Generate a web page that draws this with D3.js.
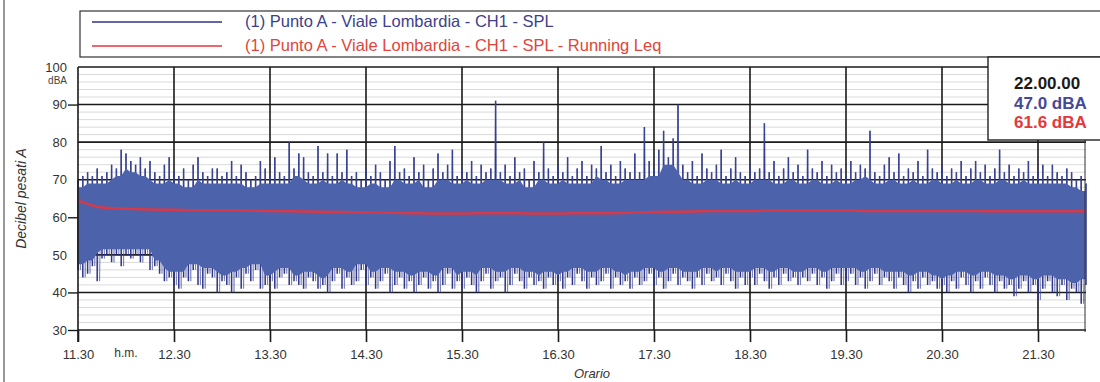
<!DOCTYPE html>
<html><head><meta charset="utf-8">
<script src="https://cdn.jsdelivr.net/npm/d3@7"></script>
<style>
html,body{margin:0;padding:0;background:#fff;}
svg{display:block;font-family:"Liberation Sans",Arial,sans-serif;}
</style></head><body>
<svg id="c" width="1100" height="382"></svg>
<script>
// ---- data ----
const xTickLabels = ["11.30","12.30","13.30","14.30","15.30","16.30","17.30","18.30","19.30","20.30","21.30"];
const xTickMinutes = [690,750,810,870,930,990,1050,1110,1170,1230,1290];
const yTicks = [30,40,50,60,70,80,90,100];
const yTicksMarked = [90,60,40,30];
const startMinute = 690;   // 11.30
const endMinute = 1320;    // 22.00
const splStep = 3;         // minutes between SPL samples
const splMax = [
70,71,72,71,73,71,72,74,73,78,77,75,74,76,73,75,72,71,74,76,
72,71,73,70,74,76,72,71,73,73,71,72,75,71,74,72,70,71,75,73,
71,76,72,71,80,73,77,76,72,71,79,72,77,71,77,72,78,71,72,70,
73,71,74,72,70,75,79,72,73,71,76,72,74,70,73,77,72,74,78,71,
73,72,75,71,74,72,73,91,72,74,71,76,72,73,70,75,72,80,73,71,
74,72,76,71,73,75,71,74,73,79,72,74,71,75,73,72,77,72,84,75,
73,78,83,76,81,90,74,72,75,71,77,73,72,74,78,71,73,76,72,71,
74,72,73,85,72,75,71,73,76,72,74,71,78,73,72,75,71,74,72,73,
71,75,72,74,73,83,72,71,74,76,72,77,71,73,72,75,71,78,73,72,
74,71,73,72,75,71,73,75,72,74,71,73,78,72,74,71,73,72,75,71,
72,74,71,74,72,71,73,72,70,71,69];
const splMin = [
46,44,45,47,43,49,50,48,50,47,50,49,50,48,50,46,47,45,43,44,
42,41,44,43,46,42,41,45,44,40,43,42,40,44,41,45,43,46,41,42,
43,41,44,45,42,43,42,41,44,43,41,42,40,43,45,41,44,42,43,46,
42,44,41,43,45,40,42,44,41,43,40,42,44,41,43,40,42,45,41,43,
41,44,42,40,43,45,41,43,44,40,42,45,43,41,44,42,43,41,44,42,
43,41,44,42,45,43,41,44,42,43,45,41,44,42,43,41,44,42,43,45,
42,44,41,43,45,42,44,43,41,44,42,45,43,44,42,45,43,41,44,42,
44,42,45,43,41,44,42,45,43,44,42,44,43,45,42,44,41,43,45,42,
43,45,42,44,41,43,45,42,44,43,41,44,42,40,43,41,44,42,43,41,
42,40,43,41,44,42,40,43,41,44,42,40,43,41,42,39,41,43,40,42,
38,41,43,40,39,42,38,41,40,37,42];
const leqStep = 15;        // minutes between Running Leq samples
const leq = [64.5,62.6,62.3,62.1,62.0,61.9,61.9,61.8,61.7,61.6,61.5,61.4,61.3,61.2,61.1,61.0,61.0,61.1,61.1,61.0,
61.0,61.1,61.1,61.2,61.4,61.5,61.6,61.7,61.7,61.8,61.8,61.8,61.8,61.7,61.7,61.7,61.7,61.7,61.6,61.6,61.6,61.6,61.6];
const legendLabels = ["(1) Punto A - Viale Lombardia - CH1 - SPL","(1) Punto A - Viale Lombardia - CH1 - SPL - Running Leq"];
const infoLines = ["22.00.00","47.0 dBA","61.6 dBA"];
const yTitle = "Decibel pesati A";
const xTitle = "Orario";
const yUnit = "dBA";
const xUnit = "h.m.";

// ---- drawing ----
const svg = d3.select("#c");
const BLUE = "#2f3486", BLUEFILL = "#4c63ac", RED = "#e5343c";
const x = d3.scaleLinear().domain([startMinute,endMinute]).range([78,1086]);
const y = d3.scaleLinear().domain([30,100]).range([330,67]);

// page border
svg.append("line").attr("x1",4).attr("x2",4).attr("y1",0).attr("y2",382).attr("stroke","#777").attr("stroke-width",1.5);

// minor horizontal grid
const minor = d3.range(32,100,2).filter(v=>v%10!==0);
svg.append("g").selectAll("line").data(minor).join("line")
  .attr("x1",x(startMinute)).attr("x2",x(endMinute)).attr("y1",d=>y(d)).attr("y2",d=>y(d))
  .attr("stroke","#dadada").attr("stroke-width",1);

// major horizontal grid
svg.append("g").selectAll("line").data(yTicks).join("line")
  .attr("x1",x(startMinute)).attr("x2",x(endMinute)).attr("y1",d=>y(d)).attr("y2",d=>y(d))
  .attr("stroke","#1a1a1a").attr("stroke-width",1.6);

// vertical grid
svg.append("g").selectAll("line").data(xTickMinutes.slice(1)).join("line")
  .attr("x1",d=>x(d)).attr("x2",d=>x(d)).attr("y1",y(100)).attr("y2",y(30))
  .attr("stroke","#1a1a1a").attr("stroke-width",1.6);

const n = splMax.length;
// SPL: min-max strokes per sample
const segs = [];
splMax.forEach((v,i)=>{
  const t = startMinute+i*splStep;
  segs.push([t,splMin[i]]); segs.push([t,v]); segs.push(null);
});
svg.append("path").datum(segs)
  .attr("d",d3.line().defined(d=>d!==null).x(d=>x(d[0])).y(d=>y(d[1])))
  .attr("fill","none").attr("stroke",BLUE).attr("stroke-width",1.5);
// SPL: secondary zigzag between samples (lighter)
const zz = [];
splMax.forEach((v,i)=>{
  const t = startMinute+i*splStep;
  zz.push([t,v]);
  if (i<n-1) zz.push([t+splStep/2, splMin[i]]);
});
svg.append("path").datum(zz)
  .attr("d",d3.line().x(d=>x(d[0])).y(d=>y(d[1])))
  .attr("fill","none").attr("stroke","#3e4b9c").attr("stroke-width",0.8).attr("opacity",0.6);

// SPL core band (derived from envelope neighbours)
const core = d3.range(n).map(i=>{
  const lo = Math.max(0,i-1), hi = Math.min(n-1,i+1);
  return {t:startMinute+i*splStep,
    top:d3.min(splMax.slice(lo,hi+1)),
    bot:d3.max(splMin.slice(lo,hi+1))};
});
svg.append("path").datum(core)
  .attr("d",d3.area().x(d=>x(d.t)).y0(d=>y(d.bot+1.5)).y1(d=>y(d.top-2)))
  .attr("fill",BLUEFILL);

// Running Leq
svg.append("path").datum(leq.map((v,i)=>[startMinute+i*leqStep,v]))
  .attr("d",d3.line().x(d=>x(d[0])).y(d=>y(d[1])).curve(d3.curveMonotoneX))
  .attr("fill","none").attr("stroke",RED).attr("stroke-width",2.5).attr("opacity",0.9);

// frame: left axis, right
svg.append("line").attr("x1",x(startMinute)).attr("x2",x(startMinute)).attr("y1",y(100)).attr("y2",342).attr("stroke","#1a1a1a").attr("stroke-width",1.6);
svg.append("line").attr("x1",x(endMinute)-1).attr("x2",x(endMinute)-1).attr("y1",y(100)).attr("y2",y(30)+2).attr("stroke","#333").attr("stroke-width",1);

// x axis
const xAxis = d3.axisBottom(x).tickValues(xTickMinutes).tickFormat((d,i)=>xTickLabels[i]).tickSize(12).tickSizeOuter(0);
const gx = svg.append("g").attr("transform",`translate(0,${y(30)})`).call(xAxis);
gx.select(".domain").remove();
gx.selectAll(".tick line").attr("stroke","#1a1a1a").attr("stroke-width",1.6);
gx.selectAll(".tick text").attr("y",20).attr("font-size",13).attr("fill","#333").attr("font-family","Liberation Sans, Arial, sans-serif");
svg.append("text").attr("x",126).attr("y",357).attr("text-anchor","middle").attr("font-size",12).attr("fill","#333").text(xUnit);
svg.append("text").attr("x",592).attr("y",378).attr("text-anchor","middle").attr("font-size",13).attr("font-style","italic").attr("fill","#333").text(xTitle);

// y axis
const yAxis = d3.axisLeft(y).tickValues(yTicks).tickSize(10).tickSizeOuter(0);
const gy = svg.append("g").attr("transform",`translate(${x(startMinute)},0)`).call(yAxis);
gy.select(".domain").remove();
gy.selectAll(".tick line").attr("stroke","#1a1a1a").attr("stroke-width",1.4)
  .attr("opacity",d=>yTicksMarked.includes(d)?1:0);
gy.selectAll(".tick text").attr("x",-11).attr("font-size",13).attr("fill","#333").attr("font-family","Liberation Sans, Arial, sans-serif");
svg.append("text").attr("x",67).attr("y",y(100)+17).attr("text-anchor","end").attr("font-size",10).attr("fill","#444").text(yUnit);
svg.append("text").attr("transform",`translate(26,${(y(30)+y(100))/2}) rotate(-90)`).attr("text-anchor","middle")
  .attr("font-size",14).attr("font-style","italic").attr("fill","#333").text(yTitle);

// legend box
svg.append("rect").attr("x",80).attr("y",11).attr("width",1100).attr("height",46).attr("fill","none").attr("stroke","#333").attr("stroke-width",1.2);
const legColors=[BLUE,RED];
const legText=["#3d3f8c","#e0453a"];
legendLabels.forEach((t,i)=>{
  const ly = 22+i*24;
  svg.append("line").attr("x1",92).attr("x2",222).attr("y1",ly).attr("y2",ly).attr("stroke",legColors[i]).attr("stroke-width",1.5);
  svg.append("text").attr("x",245).attr("y",ly+5).attr("font-size",16.5).attr("fill",legText[i]).text(t);
});

// info box
svg.append("rect").attr("x",988).attr("y",57).attr("width",200).attr("height",83).attr("fill","#fff").attr("stroke","#222").attr("stroke-width",1.4);
const infoColors=["#1a1a1a","#44479a","#e5383a"];
infoLines.forEach((t,i)=>{
  svg.append("text").attr("x",1014).attr("y",89+i*19.5).attr("font-size",17).attr("font-weight","bold").attr("fill",infoColors[i]).text(t);
});
</script>
</body></html>
